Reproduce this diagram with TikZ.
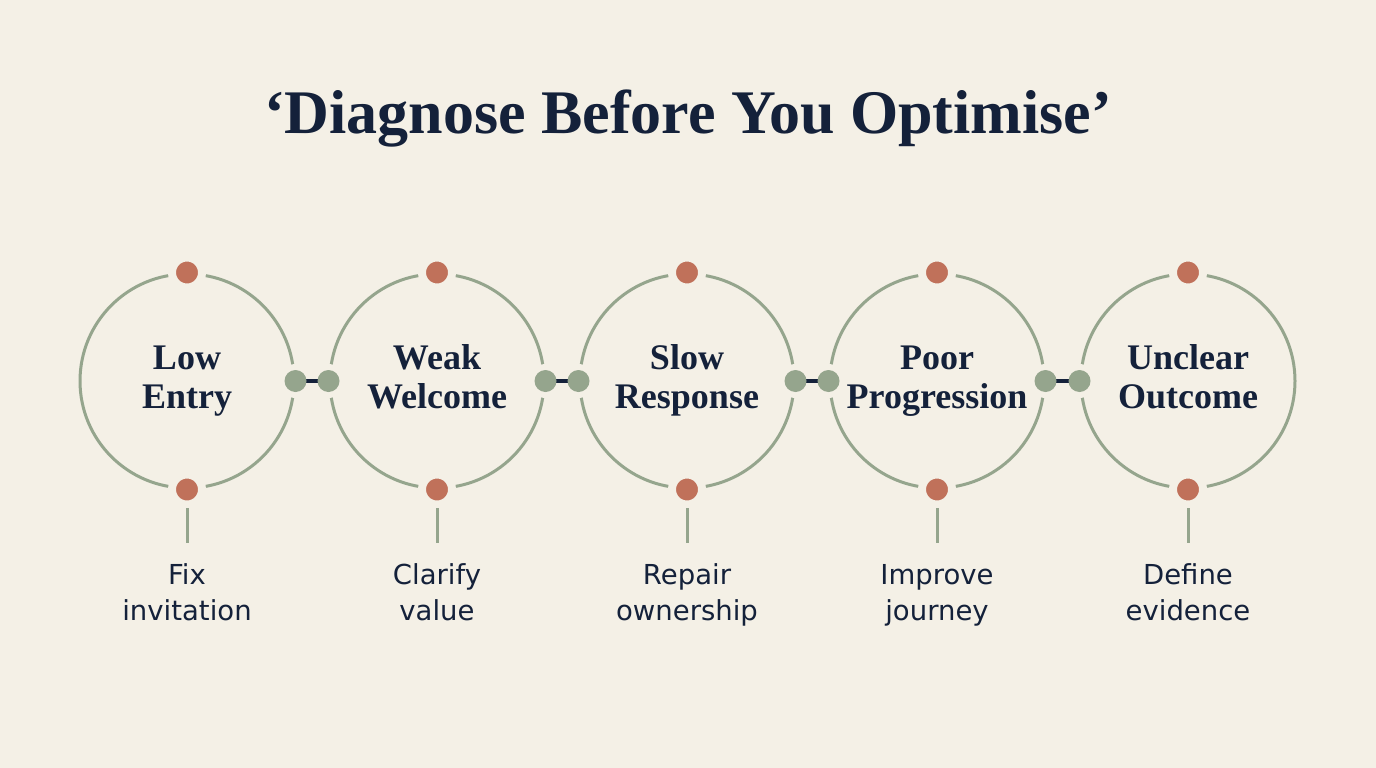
\documentclass[tikz,border=0pt]{standalone}
\usepackage{fontspec}
\setmainfont{Liberation Serif}
\newfontfamily\labelfont{DejaVu Sans}
\definecolor{bg}{HTML}{F4F0E6}
\definecolor{navy}{HTML}{14213A}
\definecolor{sage}{HTML}{95A58D}
\definecolor{terra}{HTML}{C0715A}
\tikzset{
  ring/.style={draw=sage, line width=3pt, circle, minimum size=214pt, inner sep=0pt},
  ringtext/.style={anchor=base, inner sep=0pt, font=\fontsize{36}{40}\selectfont\bfseries, text=navy},
  topdot/.style={circle, fill=terra, draw=bg, line width=8pt, minimum size=30pt, inner sep=0pt},
  gapdisc/.style={circle, fill=bg, minimum size=34pt, inner sep=0pt},
  sidedot/.style={circle, fill=sage, minimum size=22pt, inner sep=0pt},
  stem/.style={draw=sage, line width=3pt},
  link/.style={draw=navy, line width=3.5pt},
  action/.style={anchor=base, inner sep=0pt, font=\labelfont\fontsize{27.5}{36}\selectfont, text=navy}
}
\begin{document}
\begin{tikzpicture}[x=1pt,y=-1pt]
\fill[bg] (0,0) rectangle (1376,768);
\useasboundingbox (0,0) rectangle (1376,768);
\node[anchor=base, inner sep=0pt, font=\fontsize{62}{66}\selectfont\bfseries, text=navy] (title) at (688,133) {‘Diagnose Before You Optimise’};
\foreach \i/\x/\a/\b/\c/\d in {1/187/Low/Entry/Fix/invitation,2/437/Weak/Welcome/Clarify/value,3/687/Slow/Response/Repair/ownership,4/937/Poor/Progression/Improve/journey,5/1188/Unclear/Outcome/Define/evidence}{
  \node[ring] (c\i) at (\x,381) {};
  \node[ringtext] (ta\i) at (\x,369) {\a};
  \node[ringtext] (tb\i) at (\x,408) {\b};
  \node[topdot] (u\i) at (c\i.north) {};
  \node[topdot] (d\i) at (c\i.south) {};
  \coordinate (s\i) at (\x,543);
  \coordinate (st\i) at (\x,508);
  \draw[stem] (st\i) -- (s\i);
  \node[action] (aa\i) at (\x,584) {\c};
  \node[action] (ab\i) at (\x,620) {\d};
}
\foreach \i/\j in {1/2,2/3,3/4,4/5}{
  \node[gapdisc] (gr\i) at (c\i.east) {};
  \node[gapdisc] (gl\j) at (c\j.west) {};
  \draw[link] (gr\i.center) -- (gl\j.center);
  \node[sidedot] (r\i) at (c\i.east) {};
  \node[sidedot] (l\j) at (c\j.west) {};
}
\end{tikzpicture}
\end{document}
